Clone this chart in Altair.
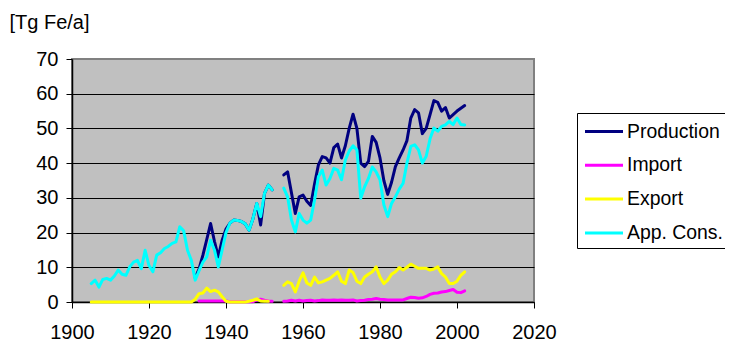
import altair as alt
import pandas as pd

# ---------------- data ----------------
cons_years_a = list(range(1905, 1953))
cons_a = [5.3, 6.3, 4.3, 6.5, 6.8, 6.3, 7.5, 9.2, 8.0, 7.7,
          10.1, 11.5, 12.0, 9.6, 14.9, 10.5, 8.7, 13.5, 14.2, 15.4,
          16.0, 16.9, 17.3, 21.7, 20.5, 14.9, 12.0, 6.3, 9.0, 11.5,
          13.0, 17.8, 15.0, 10.1, 15.0, 20.0, 22.7, 23.6, 23.5, 23.2,
          22.5, 20.7, 24.0, 28.4, 24.6, 31.3, 33.7, 32.3]
cons_years_b = list(range(1955, 2003))
cons_b = [32.8, 30.3, 23.6, 20.2, 25.5, 23.6, 22.7, 23.6, 29.4, 36.1,
          38.0, 33.7, 35.6, 38.5, 38.0, 35.2, 40.9, 43.5, 45.0, 43.8,
          29.9, 33.2, 35.6, 38.9, 37.5, 35.2, 28.0, 24.6, 28.4, 30.3,
          32.5, 34.2, 40.0, 44.8, 45.3, 43.8, 40.0, 42.0, 47.0, 50.1,
          49.2, 50.6, 51.0, 52.0, 51.1, 53.0, 51.1, 51.0]

prod_years_a = list(range(1932, 1953))
prod_a = [7.0, 9.5, 13.5, 18.0, 22.6, 17.5, 13.0, 17.8, 21.0, 22.7,
          23.6, 23.5, 23.2, 22.5, 20.7, 24.0, 28.4, 22.2, 31.3, 33.7, 32.3]
prod_years_b = list(range(1955, 2003))
prod_b = [36.6, 37.5, 31.5, 25.5, 30.3, 30.8, 29.0, 27.8, 34.0, 39.5,
          41.9, 41.5, 40.0, 44.5, 45.5, 41.5, 45.0, 50.0, 54.1, 50.0,
          40.0, 39.0, 40.5, 47.7, 46.0, 41.5, 35.0, 31.0, 34.5, 39.0,
          41.5, 43.8, 46.5, 53.0, 55.4, 54.5, 48.5, 50.0, 54.0, 58.0,
          57.5, 55.0, 56.0, 53.0, 54.0, 55.0, 55.8, 56.6]

exp_years_a = list(range(1905, 1953))
exp_a = [0.0] * 27 + [0.8, 2.4, 2.6, 4.0, 3.0, 3.4, 2.9, 1.5, 0.2,
                      0.0, 0.0, 0.0, 0.0, 0.0, 0.2, 0.5, 0.9, 0.3, 0.2, 0.2]
exp_years_b = list(range(1955, 2003))
exp_b = [4.8, 5.8, 5.3, 2.9, 6.0, 8.4, 5.5, 4.8, 7.2, 5.5,
         5.8, 6.3, 6.8, 7.7, 8.7, 6.0, 5.3, 9.2, 8.5, 6.0,
         5.3, 7.2, 8.0, 8.7, 10.1, 7.2, 5.3, 6.3, 8.0, 8.7,
         9.9, 9.2, 10.0, 10.9, 10.3, 9.7, 9.7, 9.7, 9.2, 9.5,
         10.1, 8.2, 7.2, 5.3, 5.3, 6.0, 7.7, 8.7]

imp_years_a = list(range(1933, 1953))
imp_a = [0.3, 0.3, 0.3, 0.3, 0.3, 0.3, 0.3, 0.3, 0.1, 0.1,
         0.1, 0.1, 0.1, 0.1, 0.1, 0.6, 0.8, 0.5, 0.3, 0.2]
imp_years_b = list(range(1955, 2003))
imp_b = [0.2, 0.3, 0.5, 0.3, 0.5, 0.3, 0.4, 0.5, 0.3, 0.4,
         0.6, 0.5, 0.5, 0.6, 0.5, 0.6, 0.5, 0.5, 0.6, 0.3,
         0.4, 0.5, 0.7, 0.8, 1.0, 0.8, 0.7, 0.6, 0.6, 0.6,
         0.6, 0.6, 1.0, 1.4, 1.3, 1.1, 1.2, 1.6, 2.2, 2.5,
         2.6, 2.9, 3.0, 3.3, 3.6, 2.8, 2.7, 3.2]

series_order = ["Production", "Import", "Export", "App. Cons."]
series_colors = ["#000080", "#FF00FF", "#FFFF00", "#00FFFF"]
x_ticks = [1900, 1920, 1940, 1960, 1980, 2000, 2020]
y_ticks = [0, 10, 20, 30, 40, 50, 60, 70]

# ---------------- table ----------------
rows = []
def add(series, seg, years, vals):
    for yr, v in zip(years, vals):
        rows.append({"series": series, "seg": series + seg, "year": yr, "value": v})

add("Production", "a", prod_years_a, prod_a)
add("Production", "b", prod_years_b, prod_b)
add("Import", "a", imp_years_a, imp_a)
add("Import", "b", imp_years_b, imp_b)
add("Export", "a", exp_years_a, exp_a)
add("Export", "b", exp_years_b, exp_b)
add("App. Cons.", "a", cons_years_a, cons_a)
add("App. Cons.", "b", cons_years_b, cons_b)
df = pd.DataFrame(rows)

FONT = "Liberation Sans"
FS = 20

x_enc = alt.X("year:Q",
              scale=alt.Scale(domain=[1900, 2020], nice=False, zero=False),
              axis=alt.Axis(values=x_ticks, format="d", title=None, grid=False,
                            tickSize=6, tickColor="black", tickWidth=1,
                            domainColor="black", domainWidth=1.5,
                            labelFontSize=FS, labelColor="black", labelFont=FONT,
                            labelBaseline="alphabetic", labelPadding=30,
                            labelFlush=False, labelOverlap=False))
y_enc = alt.Y("value:Q",
              scale=alt.Scale(domain=[0, 70], nice=False),
              axis=alt.Axis(values=y_ticks, title="[Tg Fe/a]",
                            titleAngle=0, titleAlign="left", titleBaseline="alphabetic",
                            titleX=-63, titleY=-31, titleFontSize=FS,
                            titleFontWeight="normal", titleFont=FONT, titleColor="black",
                            tickSize=6, tickColor="black", tickWidth=1,
                            domainColor="black", domainWidth=1.5,
                            gridColor={"condition": {"test": "datum.value === 70", "value": "#808080"},
                                       "value": "black"},
                            gridWidth=1,
                            labelFontSize=FS, labelColor="black", labelFont=FONT,
                            labelPadding=8, labelFlush=False))
color_enc = alt.Color("series:N",
                      scale=alt.Scale(domain=series_order, range=series_colors),
                      legend=alt.Legend(title=None, orient="none", legendX=505, legendY=54,
                                        symbolType="M-0.913,0H2.391", symbolSize=529,
                                        symbolStrokeWidth=3, labelFontSize=19.4,
                                        labelFont=FONT, labelColor="black",
                                        strokeColor="black", fillColor="white",
                                        padding=5.5, rowPadding=10.8, labelOffset=18.5))

layers = []
for s in series_order:
    layers.append(
        alt.Chart(df)
        .transform_filter(alt.datum.series == s)
        .mark_line(strokeWidth=3, strokeJoin="round", strokeCap="round")
        .encode(x=x_enc, y=y_enc, color=color_enc, detail="seg:N")
    )

chart = alt.layer(*layers).properties(
    width=462, height=243,
    autosize=alt.AutoSizeParams(type="none"),
    padding={"left": 64, "top": 51, "right": 191, "bottom": 40},
).configure(font=FONT, background="white").configure_view(
    fill="#C0C0C0", stroke="#808080", strokeWidth=2
)

chart.save("out.html", embed_options={"renderer": "svg", "actions": False})
